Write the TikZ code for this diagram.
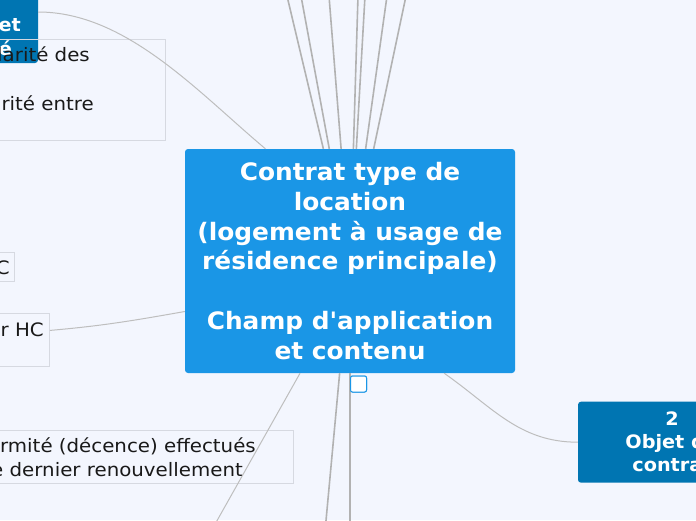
\documentclass[tikz,border=0pt]{standalone}
\usepackage{fontspec}
\setmainfont{DejaVu Sans}[Ligatures=TeXOff]
\newfontfamily\rootfont{DejaVu Sans}[FakeStretch=1.035, Ligatures=TeXOff]
\newfontfamily\topicfont{DejaVu Sans}[FakeStretch=1.04, Ligatures=TeXOff]
\newfontfamily\notefont{DejaVu Sans}[FakeStretch=1.07, Ligatures=TeXOff]
\usetikzlibrary{positioning}
\definecolor{mapbg}{RGB}{243,246,254}
\definecolor{rootblue}{RGB}{26,150,230}
\definecolor{topicblue}{RGB}{0,117,178}
\definecolor{linegray}{RGB}{178,178,178}
\definecolor{notegray}{RGB}{214,217,225}

\begin{document}
\begin{tikzpicture}[x=1pt, y=-1pt,
      rootbox/.style={fill=rootblue, rounded corners=3pt, text=white, align=center, inner sep=0pt,
        font=\rootfont\fontsize{24}{29.8}\selectfont\bfseries},
      topicbox/.style={fill=topicblue, rounded corners=3pt, text=white, align=center, inner sep=0pt,
        font=\topicfont\fontsize{18.5}{23}\selectfont\bfseries},
      topictext/.style={anchor=base east, inner sep=0pt, text=white, font=\topicfont\fontsize{18.5}{23}\selectfont\bfseries},
      notebox/.style={draw=notegray, line width=1pt, inner sep=0pt},
      notetext/.style={anchor=base east, inner sep=0pt, text=black!90, font=\notefont\fontsize{18.5}{22}\selectfont},
      foldbox/.style={draw=rootblue, fill=white, line width=1pt, rounded corners=2pt, minimum size=16pt, inner sep=0pt},
      conn/.style={draw=linegray, line width=1.6pt},
      thinconn/.style={draw=linegray!85, line width=1pt},
    ]
    \useasboundingbox (0,0) rectangle (696,520);
    \fill[mapbg] (0,0) rectangle (696,520);
    \clip (0,0) rectangle (696,520);

    % main topic
    \node[rootbox, minimum width=330pt, minimum height=224pt] (central) at (350,261)
      {Contrat type de\\location\\(logement à usage de\\résidence principale)\\[29.8pt]Champ d'application\\et contenu};
    \node[foldbox] (fold) at (358.5,384) {};

    % topics cut by the page edge
    \node[topicbox, minimum width=118pt, minimum height=102pt] (datetopic) at (-21,12) {};
    \node[topictext] (dateline1) at (21,31.7) {et};
    \node[topictext] (dateline2) at (12,55) {é};
    \node[topicbox, minimum width=188pt, minimum height=81pt] (objet) at (672,442.2) {2\\Objet du\\contrat};

    % notes
    \node[notebox, minimum width=175pt, minimum height=101pt] (solnote) at (77.5,89.5) {};
    \node[notetext] (solline1) at (90,61.7) {larité des};
    \node[notetext] (solline2) at (94,110) {rité entre};
    \node[notebox, minimum width=24.7pt, minimum height=29.7pt] (cnote) at (2.35,266.85) {};
    \node[notetext] (cline) at (10,274.5) {C};
    \node[notebox, minimum width=59.5pt, minimum height=52.7pt] (rhc) at (19.75,339.65) {};
    \node[notetext] (rhcline) at (44,336) {r HC};
    \node[notebox, minimum width=303pt, minimum height=52.3pt] (decnote) at (141.5,456.85) {};
    \node[notetext] (decline1) at (256,452.7) {rmité (décence) effectués};
    \node[notetext] (decline2) at (243,476) {le dernier renouvellement};

    % connectors
    \foreach \tx [count=\i] in {287,301,329,358,365,387,406} {
      \coordinate (up\i) at (\tx,-4);
      \draw[conn] (central) -- (up\i);
    }
    \coordinate (down1) at (214,526);
    \coordinate (down2) at (325.5,526);
    \coordinate (down3) at (350,526);
    \draw[thinconn] (central.246) -- (down1);
    \draw[conn] (central) -- (down2);
    \draw[conn] (central) -- (down3);
    \node[foldbox] at (fold) {};
    \draw[thinconn] (central.127) to[out=140, in=0, looseness=0.85] (datetopic.east);
    \draw[thinconn] (central.197) to[out=190, in=5] (rhc.17);
    \draw[thinconn] (central.-50) to[out=-35, in=180] (objet.west);
  \end{tikzpicture}
\end{document}
